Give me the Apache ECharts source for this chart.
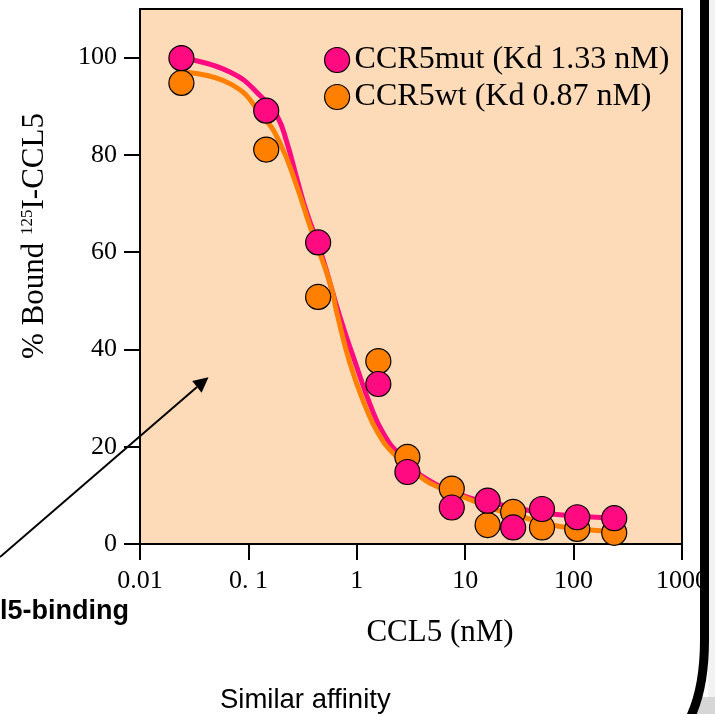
<!DOCTYPE html>
<html>
<head>
<meta charset="utf-8">
<script src="https://cdn.jsdelivr.net/npm/echarts@6/dist/echarts.min.js"></script>
<style>
  html, body { margin: 0; padding: 0; background: #ffffff; }
  #chart { width: 715px; height: 714px; }
</style>
</head>
<body>
<div id="chart"></div>
<script>
// CCL5 concentrations (nM) used for both receptors
const concentrations = [0.0241, 0.146, 0.44, 1.58, 2.93, 7.52, 16.1, 27.7, 51.1, 108, 237];
// % bound 125I-CCL5 measured points
const mutBound = [99.9, 89.1, 62.0, 32.9, 14.8, 7.5, 8.9, 3.4, 7.2, 5.5, 5.3];
const wtBound  = [94.8, 81.1, 50.8, 37.6, 17.9, 11.4, 3.9, 6.6, 3.4, 3.1, 2.3];

// fitted competition curves
const mutCurveX = [0.0241, 0.0682, 0.138, 0.184, 0.227, 0.281, 0.347, 0.460, 0.703, 1.0, 1.33, 1.76, 2.51, 4.11, 10.3, 19.5, 36.9, 74.6, 237];
const mutCurveY = [99.9, 97.0, 91.5, 88.0, 82.5, 75.0, 68.0, 60.4, 46.5, 36.4, 28.6, 22.7, 18.2, 13.8, 9.7, 8.3, 7.0, 6.0, 5.3];
const wtCurveX  = [0.0241, 0.0682, 0.138, 0.197, 0.281, 0.372, 0.569, 0.655, 0.869, 1.19, 1.58, 2.18, 3.57, 4.74, 10.3, 19.5, 36.9, 74.6, 237];
const wtCurveY  = [97.0, 94.6, 87.7, 82.3, 73.4, 65.2, 53.5, 47.5, 37.0, 28.5, 22.7, 18.6, 14.5, 12.5, 9.4, 7.0, 5.3, 3.6, 2.5];

// axis tick labels
const xTickLabels = ['0.01', '0. 1', '1', '10', '100', '1000'];
const yTickValues = [0, 20, 40, 60, 80, 100];

const mutName = 'CCR5mut (Kd 1.33 nM)';
const wtName = 'CCR5wt (Kd 0.87 nM)';

const PINK = '#ff0a80';
const ORANGE = '#ff8000';
const SERIF = '"Liberation Serif", "Times New Roman", serif';
const SANS = '"Liberation Sans", Arial, sans-serif';

const pairs = (xs, ys) => xs.map((x, i) => [x, ys[i]]);

const chart = echarts.init(document.getElementById('chart'));

chart.setOption({
  animation: false,
  backgroundColor: '#ffffff',
  grid: {
    left: 140, right: 33, top: 9, bottom: 170,
    show: true,
    backgroundColor: '#fddbb9',
    borderColor: '#000',
    borderWidth: 2,
    outerBoundsMode: 'none'
  },
  legend: {
    data: [mutName, wtName],
    orient: 'vertical',
    left: 319,
    top: 39,
    icon: 'circle',
    itemWidth: 25,
    itemHeight: 25,
    itemGap: 5,
    itemStyle: { borderColor: '#000', borderWidth: 1.2 },
    textStyle: { fontSize: 32, lineHeight: 25, fontFamily: SERIF, color: '#000' }
  },
  xAxis: {
    type: 'log',
    logBase: 10,
    min: 0.01,
    max: 1000,
    axisLine: { show: true, lineStyle: { color: '#000', width: 2 } },
    axisTick: { show: true, inside: false, length: 16, lineStyle: { color: '#000', width: 2 } },
    minorTick: { show: false },
    splitLine: { show: false },
    axisLabel: {
      margin: 24,
      fontSize: 26,
      fontFamily: SERIF,
      color: '#000',
      formatter: v => xTickLabels[Math.round(Math.log10(v)) + 2]
    }
  },
  yAxis: {
    type: 'value',
    min: 0,
    max: 110,
    interval: 20,
    axisLine: { show: true, lineStyle: { color: '#000', width: 2 } },
    axisTick: { show: true, inside: false, length: 16, customValues: yTickValues, lineStyle: { color: '#000', width: 2 } },
    splitLine: { show: false },
    axisLabel: {
      customValues: yTickValues,
      margin: 23,
      fontSize: 26,
      fontFamily: SERIF,
      color: '#000'
    }
  },
  series: [
    {
      name: 'CCR5mut fit',
      type: 'line',
      data: pairs(mutCurveX, mutCurveY),
      symbol: 'none',
      smooth: 0.5,
      lineStyle: { color: PINK, width: 5 },
      z: 2
    },
    {
      name: 'CCR5wt fit',
      type: 'line',
      data: pairs(wtCurveX, wtCurveY),
      symbol: 'none',
      smooth: 0.5,
      lineStyle: { color: ORANGE, width: 5 },
      z: 3
    },
    {
      name: wtName,
      type: 'scatter',
      data: pairs(concentrations, wtBound),
      symbol: 'circle',
      symbolSize: 25,
      itemStyle: { color: ORANGE, borderColor: '#000', borderWidth: 1.2, opacity: 1 },
      z: 4
    },
    {
      name: mutName,
      type: 'scatter',
      data: pairs(concentrations, mutBound),
      symbol: 'circle',
      symbolSize: 25,
      itemStyle: { color: PINK, borderColor: '#000', borderWidth: 1.2, opacity: 1 },
      z: 5
    }
  ],
  graphic: [
    // axis titles
    {
      type: 'text',
      x: 440, y: 633,
      style: { text: 'CCL5 (nM)', font: '31px ' + SERIF, fill: '#000', align: 'center', verticalAlign: 'middle' },
      z: 10
    },
    {
      type: 'text',
      x: 35, y: 236,
      rotation: Math.PI / 2,
      style: {
        text: '{a|% Bound }{s|125}{a|I-CCL5}',
        align: 'center',
        verticalAlign: 'middle',
        fill: '#000',
        rich: {
          a: { fontSize: 31, fontFamily: SERIF, fill: '#000', lineHeight: 32 },
          s: { fontSize: 17, fontFamily: SERIF, fill: '#000', verticalAlign: 'top', lineHeight: 32 }
        }
      },
      z: 10
    },
    // annotation texts
    {
      type: 'text',
      x: 0, y: 612,
      style: { text: 'l5-binding', font: 'bold 27px ' + SANS, fill: '#000', align: 'left', verticalAlign: 'middle' },
      z: 10
    },
    {
      type: 'text',
      x: 220, y: 700,
      style: { text: 'Similar affinity', font: '27.5px ' + SANS, fill: '#000', align: 'left', verticalAlign: 'middle' },
      z: 10
    },
    // pointer arrow
    {
      type: 'line',
      shape: { x1: 0, y1: 557, x2: 197, y2: 387 },
      style: { stroke: '#000', lineWidth: 2 },
      z: 10
    },
    {
      type: 'polygon',
      shape: { points: [[208.5, 377.3], [192.2, 381.0], [201.6, 392.8]] },
      style: { fill: '#000' },
      z: 10
    },
    // slide frame on the right
    {
      type: 'rect',
      shape: { x: 708, y: 0, width: 7, height: 714 },
      style: { fill: '#f2f2f2' },
      z: 20
    },
    {
      type: 'polygon',
      shape: { points: [[700, 697], [715, 697], [715, 714], [696, 714]] },
      style: { fill: '#d6d6d6' },
      z: 20
    },
    {
      type: 'line',
      shape: { x1: 704.5, y1: 0, x2: 704.5, y2: 641 },
      style: { stroke: '#000', lineWidth: 9 },
      z: 21
    },
    {
      type: 'bezierCurve',
      shape: { x1: 704.5, y1: 640, cpx1: 704.5, cpy1: 672, cpx2: 700, cpy2: 696, x2: 691, y2: 716 },
      style: { stroke: '#000', lineWidth: 9, fill: null },
      z: 21
    }
  ]
});
</script>
</body>
</html>
